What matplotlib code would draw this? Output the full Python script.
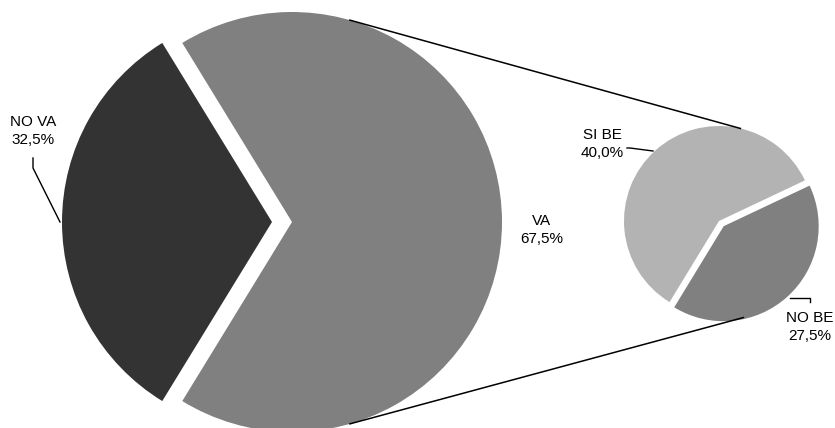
import numpy as np
import matplotlib.pyplot as plt

plt.rcParams['font.family'] = ['Liberation Sans', 'DejaVu Sans']

# main pie and the breakdown of "VA"
main_labels = ['NO VA', 'VA']
main_values = [32.5, 67.5]
main_colors = ['#333333', '#808080']

sub_labels = ['SI BE', 'NO BE']
sub_values = [40.0, 27.5]
sub_colors = ['#b3b3b3', '#808080']

W, H = 835, 428
fig = plt.figure(figsize=(W / 100, H / 100), dpi=100)
ax = fig.add_axes([0, 0, 1, 1])
ax.set_xlim(0, W)
ax.set_ylim(0, H)
ax.set_aspect('equal')
ax.axis('off')


def img(x, y):
    # pixel coords measured from the top-left corner
    return x, H - y


# explode offsets are in data units here (pie does not scale them by radius)
big_c = img(272, 222)
big_r = 210
big_gap = 20
ax.pie(main_values, colors=main_colors, startangle=121.5, radius=big_r,
       center=big_c, explode=[0, big_gap],
       wedgeprops=dict(linewidth=0))

small_c = img(719, 221)
small_r = 95
small_gap = 7
ax.pie(sub_values, colors=sub_colors, startangle=25.3, radius=small_r,
       center=small_c, explode=[0, small_gap],
       wedgeprops=dict(linewidth=0))

ax.set_xlim(0, W)
ax.set_ylim(0, H)

# connector lines between the VA slice and the secondary pie
gray_c = (big_c[0] + big_gap, big_c[1])
for sgn in (1, -1):
    a1 = np.radians(74 * sgn)
    a2 = np.radians(77 * sgn)
    p1 = (gray_c[0] + big_r * np.cos(a1), gray_c[1] + big_r * np.sin(a1))
    p2 = (small_c[0] + small_r * np.cos(a2), small_c[1] + small_r * np.sin(a2))
    if sgn < 0:
        p2 = (p2[0] + 3, p2[1] - 4)
    ax.plot([p1[0], p2[0]], [p1[1], p2[1]], color='black', lw=1.1)

fs = 11
ls = 1.3
ax.text(*img(33, 131), f'{main_labels[0]}\n{main_values[0]:.1f}%'.replace('.', ','),
        ha='center', va='center', fontsize=fs, linespacing=ls)
ax.text(*img(542, 230), f'{main_labels[1]}\n{main_values[1]:.1f}%'.replace('.', ','),
        ha='center', va='center', fontsize=fs, linespacing=ls)
ax.text(*img(602, 144), f'{sub_labels[0]}\n{sub_values[0]:.1f}%'.replace('.', ','),
        ha='center', va='center', fontsize=fs, linespacing=ls)
ax.text(*img(810, 327), f'{sub_labels[1]}\n{sub_values[1]:.1f}%'.replace('.', ','),
        ha='center', va='center', fontsize=fs, linespacing=ls)

# leader lines
leaders = [
    [(33, 158), (33, 168), (60, 222)],
    [(627, 148), (630, 148), (653, 151)],
    [(790, 298), (810, 298), (810, 302)],
]
for pts in leaders:
    xs, ys = zip(*[img(x, y) for x, y in pts])
    ax.plot(xs, ys, color='black', lw=1)

fig.savefig('out.png', dpi=100, facecolor='white')
